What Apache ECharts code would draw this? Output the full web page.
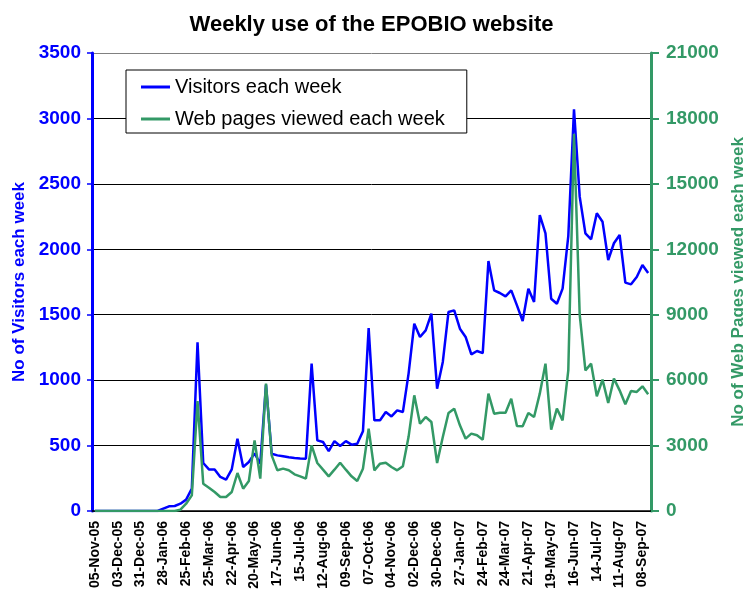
<!DOCTYPE html>
<html>
<head>
<meta charset="utf-8">
<title>Weekly use of the EPOBIO website</title>
<script src="https://cdn.jsdelivr.net/npm/echarts@6/dist/echarts.min.js"></script>
<style>
  html, body { margin: 0; padding: 0; background: #fff; }
  #chart { width: 743px; height: 597px; }
</style>
</head>
<body>
<div id="chart"></div>
<script>
// week starting dates
var weeks = [
  "05-Nov-05", "12-Nov-05", "19-Nov-05", "26-Nov-05", "03-Dec-05", "10-Dec-05", "17-Dec-05", "24-Dec-05", "31-Dec-05",
  "07-Jan-06", "14-Jan-06", "21-Jan-06", "28-Jan-06", "04-Feb-06", "11-Feb-06", "18-Feb-06", "25-Feb-06",
  "04-Mar-06", "11-Mar-06", "18-Mar-06", "25-Mar-06", "01-Apr-06", "08-Apr-06", "15-Apr-06", "22-Apr-06",
  "29-Apr-06", "06-May-06", "13-May-06", "20-May-06", "27-May-06", "03-Jun-06", "10-Jun-06", "17-Jun-06",
  "24-Jun-06", "01-Jul-06", "08-Jul-06", "15-Jul-06", "22-Jul-06", "29-Jul-06", "05-Aug-06", "12-Aug-06",
  "19-Aug-06", "26-Aug-06", "02-Sep-06", "09-Sep-06", "16-Sep-06", "23-Sep-06", "30-Sep-06", "07-Oct-06",
  "14-Oct-06", "21-Oct-06", "28-Oct-06", "04-Nov-06", "11-Nov-06", "18-Nov-06", "25-Nov-06", "02-Dec-06",
  "09-Dec-06", "16-Dec-06", "23-Dec-06", "30-Dec-06", "06-Jan-07", "13-Jan-07", "20-Jan-07", "27-Jan-07",
  "03-Feb-07", "10-Feb-07", "17-Feb-07", "24-Feb-07", "03-Mar-07", "10-Mar-07", "17-Mar-07", "24-Mar-07",
  "31-Mar-07", "07-Apr-07", "14-Apr-07", "21-Apr-07", "28-Apr-07", "05-May-07", "12-May-07", "19-May-07",
  "26-May-07", "02-Jun-07", "09-Jun-07", "16-Jun-07", "23-Jun-07", "30-Jun-07", "07-Jul-07", "14-Jul-07",
  "21-Jul-07", "28-Jul-07", "04-Aug-07", "11-Aug-07", "18-Aug-07", "25-Aug-07", "01-Sep-07", "08-Sep-07",
  "15-Sep-07"
];

var visitors = [
  0, 0, 0, 0, 0, 0, 0, 0, 0, 0, 0, 0,
  18, 36, 38, 56, 87, 171, 1290, 367, 318, 318, 260, 240, 318, 553, 336, 374, 440, 361,
  965, 438, 425, 418, 410, 405, 402, 400, 1126, 540, 527, 458, 534, 497, 534, 507, 514, 609,
  1398, 693, 693, 756, 723, 769, 756, 1050, 1431, 1330, 1380, 1508, 935, 1139, 1521, 1533,
  1393, 1330, 1197, 1223, 1207, 1910, 1686, 1666, 1640, 1686, 1571, 1452, 1699, 1597,
  2262, 2122, 1622, 1584, 1699, 2100, 3070, 2402, 2122, 2076, 2275, 2211, 1918, 2046,
  2109, 1745, 1732, 1788, 1880, 1819
];

var pagesViewed = [
  0, 0, 0, 0, 0, 0, 0, 0, 0, 0, 0, 0, 0, 0, 0,
  61, 336, 718, 5044, 1253, 1070, 871, 642, 642, 871, 1742, 1024, 1376, 3240, 1483,
  5838, 2552, 1865, 1941, 1865, 1681, 1590, 1483, 3011, 2201, 1895, 1590, 1895, 2216, 1895,
  1590, 1376, 1941, 3775, 1865, 2170, 2216, 2017, 1865, 2048, 3400, 5303, 4004, 4310, 4081,
  2201, 3393, 4493, 4692, 3928, 3317, 3546, 3470, 3271, 5380, 4463, 4509, 4509, 5151, 3897,
  3882, 4493, 4310, 5380, 6755, 3729, 4692, 4157, 6450, 17300, 9000, 6450, 6755, 5258, 6022,
  4952, 6068, 5533, 4891, 5502, 5457, 5716, 5350
];

var font = "'Liberation Sans', Arial, sans-serif";
var blue = "#0000ff";
var green = "#339966";

var chart = echarts.init(document.getElementById("chart"));
chart.setOption({
  animation: false,
  title: {
    text: "Weekly use of the EPOBIO website",
    left: "center",
    top: 9,
    textStyle: {
      fontFamily: font,
      fontSize: 22,
      fontWeight: "bold",
      color: "#000"
    }
  },
  legend: {
    orient: "vertical",
    left: 126,
    top: 70,
    padding: [7, 22, 4, 15],
    itemGap: 12,
    itemWidth: 29,
    itemHeight: 3,
    icon: "rect",
    backgroundColor: "#fff",
    borderColor: "#000",
    borderWidth: 1,
    textStyle: {
      fontFamily: font,
      fontSize: 20,
      color: "#000"
    },
    data: ["Visitors each week", "Web pages viewed each week"]
  },
  grid: {
    left: 92,
    right: 92,
    top: 53,
    bottom: 86,
    outerBoundsMode: "none"
  },
  xAxis: {
    type: "category",
    boundaryGap: true,
    data: weeks,
    axisLine: {
      lineStyle: { color: "#000", width: 1.5 }
    },
    axisTick: {
      interval: 0,
      length: 4,
      lineStyle: { color: "#000" }
    },
    axisLabel: {
      interval: 3,
      rotate: 90,
      margin: 10,
      fontFamily: font,
      fontSize: 14,
      fontWeight: "bold",
      color: "#000"
    }
  },
  yAxis: [
    {
      type: "value",
      min: 0,
      max: 3500,
      interval: 500,
      name: "No of Visitors each week",
      nameLocation: "middle",
      nameRotate: 90,
      nameGap: 64,
      nameTextStyle: {
        fontFamily: font,
        fontSize: 17,
        fontWeight: "bold",
        color: blue
      },
      axisLine: {
        show: true,
        lineStyle: { color: blue, width: 3 }
      },
      axisTick: {
        show: true,
        length: 5,
        lineStyle: { color: blue, width: 1.5 }
      },
      axisLabel: {
        margin: 11,
        fontFamily: font,
        fontSize: 19,
        fontWeight: "bold",
        color: blue,
        formatter: function (v) {
          return String(v);
        }
      },
      splitLine: {
        show: true,
        lineStyle: {
          color: ["#000", "#000", "#000", "#000", "#000", "#000", "#000", "#808080"],
          width: 1
        }
      }
    },
    {
      type: "value",
      position: "right",
      min: 0,
      max: 21000,
      interval: 3000,
      name: "No of Web Pages viewed each week",
      nameLocation: "middle",
      nameRotate: 90,
      nameGap: 73,
      nameTextStyle: {
        fontFamily: font,
        fontSize: 17,
        fontWeight: "bold",
        color: green
      },
      axisLine: {
        show: true,
        lineStyle: { color: green, width: 3 }
      },
      axisTick: {
        show: true,
        length: 8,
        lineStyle: { color: green, width: 2 }
      },
      axisLabel: {
        margin: 15,
        fontFamily: font,
        fontSize: 19,
        fontWeight: "bold",
        color: green,
        formatter: function (v) {
          return String(v);
        }
      },
      splitLine: { show: false }
    }
  ],
  series: [
    {
      name: "Visitors each week",
      type: "line",
      yAxisIndex: 0,
      symbol: "none",
      itemStyle: { color: blue },
      lineStyle: { color: blue, width: 2.5 },
      data: visitors
    },
    {
      name: "Web pages viewed each week",
      type: "line",
      yAxisIndex: 1,
      symbol: "none",
      itemStyle: { color: green },
      lineStyle: { color: green, width: 2.5 },
      data: pagesViewed
    }
  ]
});
</script>
</body>
</html>
